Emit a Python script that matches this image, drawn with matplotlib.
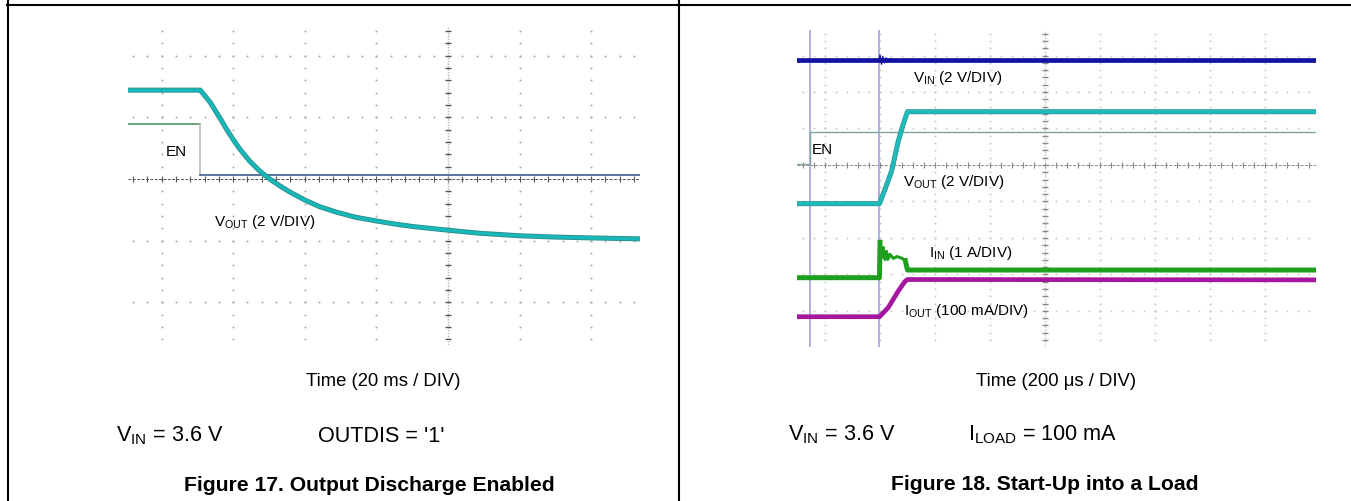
import numpy as np
import matplotlib.pyplot as plt
import matplotlib.patheffects as pe
from matplotlib.lines import Line2D

plt.rcParams['font.family'] = ['Liberation Sans', 'DejaVu Sans']
plt.rcParams['mathtext.fontset'] = 'custom'
plt.rcParams['mathtext.rm'] = 'Liberation Sans'

# --- data (in scope divisions) ---
# Figure 17: output discharge, 20 ms/div
f17_vout_t = [-4.47, -3.46, -3.32, -3.24, -3.16, -3.10, -3.00, -2.91, -2.77,
              -2.63, -2.49, -2.35, -2.21, -2.00, -1.79, -1.55, -1.29, -1.00,
              -0.74, -0.49, 0.0, 0.45, 1.00, 1.47, 2.00, 2.68]
f17_vout_v = [1.44, 1.44, 1.24, 1.09, 0.94, 0.82, 0.64, 0.49, 0.29,
              0.13, 0.0, -0.11, -0.21, -0.34, -0.45, -0.54, -0.62, -0.68,
              -0.73, -0.77, -0.83, -0.88, -0.92, -0.94, -0.955, -0.97]
f17_en_t = [-4.47, -3.47, -3.47, 2.68]
f17_en_v = [0.89, 0.89, 0.065, 0.065]

# Figure 18: start-up into a load, 200 us/div
f18_vin_t = [-4.51, 4.91]
f18_vin_v = [2.89, 2.89]
f18_vin_ring_t = [-3.02, -3.00, -2.97, -2.95, -2.92, -2.89, -2.86, -2.82, -2.78]
f18_vin_ring_v = [2.89, 3.02, 2.76, 2.98, 2.80, 2.94, 2.84, 2.91, 2.89]
f18_vout_t = [-4.51, -3.01, -2.91, -2.79, -2.67, -2.58, -2.50, 4.91]
f18_vout_v = [-1.06, -1.06, -0.67, -0.17, 0.64, 1.11, 1.46, 1.46]
f18_en_t = [-4.51, -4.27, -4.27, 4.91]
f18_en_v = [0.04, 0.04, 0.90, 0.90]
f18_iin_t = [-4.51, -3.01, -3.00, -2.96, -2.94, -2.91, -2.88, -2.86, -2.82,
             -2.76, -2.69, -2.60, -2.54, -2.50, 4.91]
f18_iin_v = [-3.09, -3.09, -2.12, -2.53, -2.26, -2.59, -2.37, -2.59, -2.45,
             -2.56, -2.51, -2.56, -2.62, -2.88, -2.88]
f18_iout_t = [-4.51, -3.01, -2.85, -2.67, -2.55, -2.50, 4.91]
f18_iout_v = [-4.16, -4.16, -3.91, -3.46, -3.20, -3.14, -3.15]

W, H = 1351, 502


def fx(x):
    return x / W


def fy(y):
    return 1 - y / H


def scope_grid(ax, cols, rows, dot_color, axis_color, vaxis_color):
    x0, x1 = ax.get_xlim()
    y0, y1 = ax.get_ylim()
    xm = np.arange(np.ceil(x0 / 0.2) * 0.2, x1, 0.2)
    ym = np.arange(np.ceil(y0 / 0.2) * 0.2, y1, 0.2)
    for k in cols:
        if k != 0:
            ax.plot(np.full_like(ym, k), ym, ls='none', marker='s', ms=1.2,
                    mec='none', color=dot_color, zorder=1)
    for j in rows:
        if j != 0:
            ax.plot(xm, np.full_like(xm, j), ls='none', marker='s', ms=1.2,
                    mec='none', color=dot_color, zorder=1)
    ax.axhline(0, color=axis_color, lw=0.7, ls=(0, (3, 1.5)), zorder=1)
    ax.plot(xm, np.zeros_like(xm), ls='none', marker='|', ms=4, mew=0.8,
            color=axis_color, zorder=1)
    ax.axvline(0, color=vaxis_color, lw=1.0, ls=(0, (1, 1)), zorder=1)
    ax.plot(np.zeros_like(ym), ym, ls='none', marker='_', ms=4, mew=1.0,
            color=axis_color, zorder=1)


fig = plt.figure(figsize=(W / 100, H / 100), dpi=100)

# --- frame lines ---
fig.add_artist(Line2D([fx(7), 1], [fy(6), fy(6)], color='black', lw=1.5))
fig.add_artist(Line2D([fx(7.5), fx(7.5)], [0, 1], color='black', lw=1.5))
fig.add_artist(Line2D([fx(679.3), fx(679.3)], [0, 1], color='black', lw=1.5))

# --- Figure 17 scope ---
ax1 = fig.add_axes([fx(128), fy(346), (640 - 128) / W, (346 - 28) / H])
ax1.set_xlim(-4.469, 2.682)
ax1.set_ylim(-2.690, 2.463)
ax1.axis('off')
scope_grid(ax1, range(-4, 3), range(-2, 3), '#a0a0a0', '#555555', '#b5b5b5')

ax1.plot(f17_en_t[:2], f17_en_v[:2], color='#3e8e5a', lw=1.1, zorder=3)
ax1.plot(f17_en_t[1:3], f17_en_v[1:3], color='#b8b8b8', lw=1.1, zorder=3)
ax1.plot(f17_en_t[2:], f17_en_v[2:], color='#3e5f8f', lw=1.2, zorder=3)
ax1.plot(f17_vout_t, f17_vout_v, color='#19b8b8', lw=2.4, zorder=4,
         solid_joinstyle='round',
         path_effects=[pe.Stroke(linewidth=3.6, foreground='#2b8c8c'), pe.Normal()])

fig.text(fx(166), fy(156), 'EN', fontsize=11)
fig.text(fx(214), fy(226), r'V$_\mathregular{OUT}$ (2 V/DIV)', fontsize=11)
fig.text(fx(383), fy(386), 'Time (20 ms / DIV)', fontsize=13.3, ha='center')
fig.text(fx(116), fy(441.7), r'V$_\mathregular{IN}$ = 3.6 V', fontsize=15.6)
fig.text(fx(317.7), fy(441.7), "OUTDIS = '1'", fontsize=15.6)
fig.text(fx(184.3), fy(491), 'Figure 17. Output Discharge Enabled',
         fontsize=15.2, fontweight='bold')

# --- Figure 18 scope ---
ax2 = fig.add_axes([fx(797), fy(348), (1316 - 797) / W, (348 - 31) / H])
ax2.set_xlim(-4.51, 4.93)
ax2.set_ylim(-4.99, 3.70)
ax2.axis('off')
scope_grid(ax2, range(-4, 5), range(-4, 4), '#c4c4c4', '#8a8a8a', '#c0c0c0')

for xc in (-4.273, -3.013):
    ax2.axvline(xc, color='#a9a9dd', lw=1.3, zorder=2)

ax2.plot(f18_en_t, f18_en_v, color='#7da3a3', lw=1.0, zorder=3)
ax2.plot(f18_vin_t, f18_vin_v, color='#1212a0', lw=3.4, zorder=4)
ax2.plot(f18_vin_ring_t, f18_vin_ring_v, color='#1212a0', lw=0.9, zorder=4)
ax2.plot(f18_vout_t, f18_vout_v, color='#20baba', lw=2.6, zorder=4,
         path_effects=[pe.Stroke(linewidth=3.6, foreground='#2d9595'), pe.Normal()])
ax2.plot(f18_iin_t[:3], f18_iin_v[:3], color='#1ea01e', lw=3.6, zorder=4)
ax2.plot(f18_iin_t[2:-2], f18_iin_v[2:-2], color='#1ea01e', lw=2.2, zorder=4)
ax2.plot(f18_iin_t[-3:], f18_iin_v[-3:], color='#1ea01e', lw=3.6, zorder=4)
ax2.plot(f18_iout_t, f18_iout_v, color='#a5179f', lw=3.4, zorder=5)

fig.text(fx(913.3), fy(82.3), r'V$_\mathregular{IN}$ (2 V/DIV)', fontsize=11)
fig.text(fx(811.7), fy(154.3), 'EN', fontsize=11)
fig.text(fx(903.3), fy(185.7), r'V$_\mathregular{OUT}$ (2 V/DIV)', fontsize=11)
fig.text(fx(929.3), fy(257.3), r'I$_\mathregular{IN}$ (1 A/DIV)', fontsize=11)
fig.text(fx(904.3), fy(315), r'I$_\mathregular{OUT}$ (100 mA/DIV)', fontsize=11)
fig.text(fx(1056), fy(386), 'Time (200 μs / DIV)', fontsize=13.3, ha='center')
fig.text(fx(788.3), fy(440), r'V$_\mathregular{IN}$ = 3.6 V', fontsize=15.6)
fig.text(fx(967.7), fy(440), r'I$_\mathregular{LOAD}$ = 100 mA', fontsize=15.6)
fig.text(fx(891), fy(490), 'Figure 18. Start-Up into a Load',
         fontsize=15.2, fontweight='bold')

fig.savefig('out.png', dpi=100)
